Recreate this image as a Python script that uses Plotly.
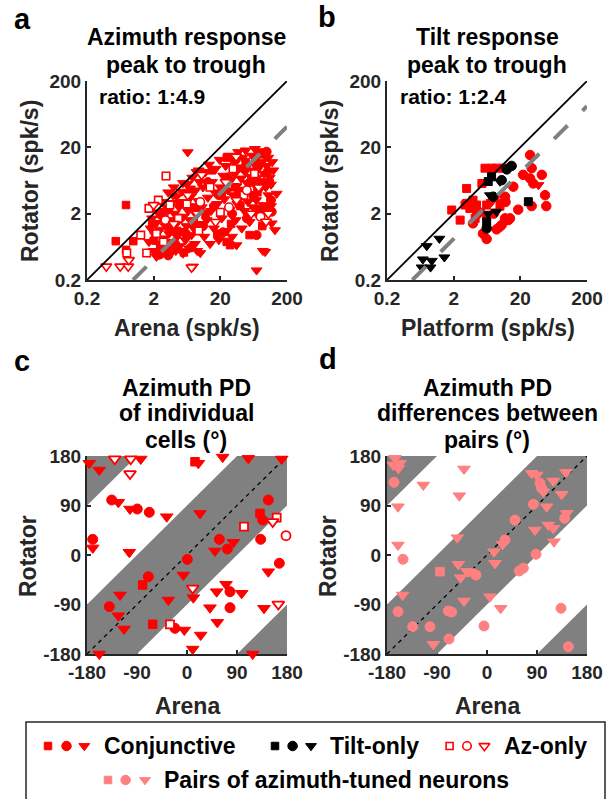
import math
import plotly.graph_objects as go

W, H = 606, 799

# ---------------- DATA ----------------
# Panel a: azimuth response peak-to-trough (spk/s), Arena (x) vs Rotator (y)
a_conj_tri = [
    (6.5, 16.9), (66, 18.9), (140, 4.0), (118, 1.43), (94, 0.53), (70, 0.28), (35, 0.67), (10, 0.51),
    (7.8, 0.32), (132, 1.13), (87, 0.55),
    (1.7, 0.75), (1.8, 1.2), (1.9, 1.7), (2.0, 0.55), (2.1, 0.95), (2.2, 1.45), (2.3, 2.1), (2.4, 0.7),
    (2.5, 1.15), (2.6, 3.0), (2.7, 0.5), (2.8, 1.8), (2.9, 0.85), (3.0, 1.3), (3.1, 2.5), (3.2, 0.6),
    (3.3, 4.2), (3.4, 1.0), (3.5, 1.6), (3.6, 0.5), (3.7, 2.9), (3.8, 0.75), (3.9, 1.25), (4.0, 5.0),
    (4.1, 2.0), (4.3, 0.55), (4.4, 3.6), (4.5, 0.9), (4.6, 1.5), (4.8, 2.5), (4.9, 0.65), (5.2, 1.1),
    (5.3, 4.3), (5.5, 0.5), (5.6, 1.8), (5.8, 3.0), (6.0, 0.8), (6.2, 1.3), (6.4, 5.6), (6.6, 2.2),
    (6.8, 0.6), (7.0, 1.6), (7.2, 3.6), (7.4, 0.95), (7.6, 7.0), (7.8, 2.6), (8.0, 1.2), (8.3, 0.7),
    (8.5, 4.5), (8.8, 1.9), (9.0, 0.55), (9.3, 3.1), (9.6, 1.4), (9.8, 6.0), (2.2, 0.45), (2.9, 2.2),
    (3.9, 3.8), (5.5, 5.8), (7.0, 4.8), (8.8, 8.5), (9.5, 9.0),
    (10.5, 2.5), (11, 5.0), (11.5, 0.9), (12, 8.5), (12.5, 1.6), (13, 3.5), (13.5, 11), (14, 0.7),
    (14.5, 2.2), (15, 6.0), (16, 1.2), (16.5, 4.2), (17, 9.5), (18, 2.8), (19, 0.8), (19.5, 13),
    (20, 5.0), (21, 1.7), (22, 7.5), (23, 3.3), (24, 10.5), (25, 1.1), (26, 4.5), (27, 15), (28, 2.3),
    (29, 6.5), (30, 0.9), (31, 3.8), (32, 12), (33, 8.0), (34, 1.6), (35, 5.2), (36, 2.8), (37, 17),
    (38, 10), (40, 3.5), (41, 6.8), (42, 1.2), (43, 14), (44, 4.6), (46, 2.2), (47, 8.5), (48, 18),
    (50, 5.8), (52, 3.0), (53, 11), (55, 1.5), (57, 7.2), (58, 4.0), (60, 15), (62, 2.5), (64, 9.0),
    (65, 5.5), (67, 13), (69, 3.2), (71, 7.0), (73, 1.9), (75, 17.5), (77, 10), (80, 4.8), (83, 6.2),
    (85, 12), (88, 2.7), (90, 8.0), (93, 15), (96, 5.0), (100, 10.5), (105, 3.8), (110, 7.0),
    (115, 5.5), (125, 9.0), (115, 2.6), (105, 14), (120, 12),
]
a_conj_circ = [
    (94, 2.27), (118, 2.14), (70, 0.95), (99, 17.2),
    (2.0, 0.8), (2.6, 1.9), (3.1, 0.55), (3.6, 1.2), (4.2, 0.7), (5.0, 2.8), (6.1, 1.0), (7.3, 0.62),
    (8.6, 2.3), (11, 1.3), (13, 6.0), (16, 2.6), (19, 3.8), (22, 1.05), (26, 7.0), (30, 2.0), (34, 13),
    (38, 4.2), (45, 9.5), (50, 1.7), (56, 6.0), (63, 3.6), (70, 11), (78, 2.3), (86, 5.5), (85, 16),
    (102, 8.5), (115, 3.2), (2.4, 0.48), (3.3, 0.47),
]
a_conj_sq = [
    (0.77, 2.7), (0.54, 0.77), (0.77, 0.57), (0.99, 0.77), (24.9, 0.75), (28, 0.67),
    (1.9, 1.4), (2.5, 0.6), (3.4, 2.3), (4.5, 1.1), (5.7, 0.52), (6.8, 4.0), (8.0, 1.5), (12, 2.0),
    (15, 9.0), (18, 1.0), (21, 4.0), (25, 14), (29, 1.4), (33, 5.0), (40, 2.6), (48, 12), (55, 0.95),
    (60, 6.5), (72, 4.2), (85, 1.3), (110, 5.8),
]
a_az_sq = [
    (3.06, 7.4), (1.28, 0.95), (0.79, 0.51), (2.35, 3.2), (3.5, 2.7), (1.57, 0.51), (1.7, 2.4),
    (2.2, 1.0), (2.8, 0.75), (4.7, 1.7), (6.3, 2.8), (9.5, 1.1), (14, 5.0), (20, 2.1), (31, 9.5),
    (45, 3.8), (65, 8.0),
]
a_az_circ = [(3.0, 1.6), (10, 3.0), (27, 2.5), (50, 4.5), (80, 1.8)]
a_az_tri = [
    (0.39, 0.32), (0.63, 0.32), (0.83, 0.32), (0.85, 0.40), (7.4, 0.31), (97, 1.52), (34.5, 14.5),
    (10.5, 7.7), (2.0, 2.7), (4.0, 1.4), (6.5, 3.8), (9.0, 2.0), (17, 1.5), (24, 6.0), (35, 3.2),
    (58, 2.0), (75, 5.0), (105, 2.0),
]
ratio_a = 4.9

# Panel b: tilt response peak-to-trough (spk/s), Platform (x) vs Rotator (y)
b_conj_sq = [
    (3.13, 4.8), (5.3, 5.7), (5.9, 9.7), (7.4, 9.7), (8.8, 9.7), (11.2, 9.7), (1.87, 2.27), (2.5, 1.6),
    (2.96, 2.7), (3.5, 2.4), (4.4, 2.7), (5.0, 2.1), (4.2, 1.7), (3.13, 2.86), (3.9, 3.2), (6.25, 2.7),
    (9.9, 2.6), (4.4, 2.0), (6.25, 1.8),
]
b_conj_circ = [
    (3.9, 1.43), (6.25, 0.83), (8.8, 1.16), (10.5, 1.35), (14, 1.7), (15.7, 5.1), (18.6, 2.3),
    (22, 7.7), (28, 6.8), (28, 15.3), (29.6, 9.7), (42, 7.7), (31.3, 5.7), (47, 3.8), (49, 2.6),
    (29.6, 2.6), (11.8, 1.7), (5.5, 1.0), (9.9, 1.27), (11.8, 3.6), (8.0, 2.0), (12, 3.0), (13.2, 1.6),
]
b_conj_tri = [(8.8, 3.6), (7.4, 3.0), (37.4, 5.4), (10, 3.0)]
b_tilt_sq = [(26.4, 3.03), (7.4, 7.2), (6.25, 1.51), (6.6, 6.1)]
b_tilt_circ = [(14.8, 10.5), (6.25, 1.2), (10.5, 6.4), (7.8, 3.6), (12.5, 9.3)]
b_tilt_tri = [
    (0.79, 0.65), (1.22, 0.84), (1.45, 0.44), (0.69, 0.41), (0.94, 0.39), (0.66, 0.31), (0.90, 0.31),
    (7.0, 3.8), (9.9, 6.1), (8.8, 2.14), (6.6, 2.0),
]
ratio_b = 2.4

# Panel c: azimuth PD of individual cells (deg), Arena (x) vs Rotator (y)
c_conj_sq = [(-79.8, -54.5), (-61.8, -126), (14.4, 169.6), (131.4, 75.6)]
c_conj_circ = [
    (-135.5, 100), (-89.5, 83.6), (-67.9, 77.6), (-169.7, 28.5), (-69.6, -39.5), (-139.8, -94),
    (-21.6, -133.3), (0.6, -8), (146.4, 100), (136.2, 63.6), (132.6, 28.5), (58.2, 28.5), (72.6, 10.9),
    (166.2, -15), (77.4, -66.7), (77.4, -95.8),
]
c_conj_tri = [
    (-175.9, 166.7), (-157.9, 154.5), (-83.3, 174.5), (-123.6, 95.8), (-102.6, 83.6), (-36.5, 69.6),
    (-169.7, 12.9), (-103.8, 5), (-120.6, -72.7), (-123.6, -110.4), (-113.4, -134.5), (-4.8, -136.4),
    (-157.9, -180), (-33.6, -81.8), (20.4, 166.7), (64.2, 178), (110.4, 175.7), (170.4, 174.5),
    (23.4, 75.6), (83.4, 23), (50.4, 7.3), (146.4, -30.4), (-6.6, -36.4), (11.4, -77.6), (70.2, -53.3),
    (53.4, -66.7), (98.4, -69.6), (41.4, -95.8), (138.6, -96.9), (54.6, -122.4), (24.6, -145.5),
    (10.2, -171), (118.2, -180),
]
c_az_sq = [(-30.6, -126), (161.4, 67.9), (102.6, 51.5)]
c_az_circ = [(178.2, 35.1)]
c_az_tri = [(-130.1, 174.5), (-101.3, 174.5), (-102.6, 147.8), (154.2, 60.5), (10.2, -60.5), (164.4, -89.6)]

# Panel d: azimuth PD differences between pairs (deg), Arena (x) vs Rotator (y)
d_sq = [(-84.6, -30.3)]
d_circ = [
    (-167.4, 132.2), (-151.2, -7.8), (-19.8, -36.4), (-160.2, -103), (-69.6, -101.8), (-63.6, -103.6),
    (-133.8, -130.3), (-102.6, -130.3), (-68.4, -152.7), (-5.4, -129), (32.4, 27.3), (50.4, 63.6),
    (83.4, 92.2), (88.2, 1.3), (58.2, -29), (65.4, -24), (95.4, 130.4), (98.4, 121.3), (139.8, 66.7),
    (133.2, -96.9), (146.4, -166.7),
]
d_tri = [
    (-165.6, 175.8), (-156.6, 167), (-159.6, 157.6), (-168.6, 163.6), (-114.6, 127.3), (-41.4, 156.4),
    (-49.8, 107.8), (-160.2, 87.8), (-160.2, 18.2), (-53.4, 31.5), (-51.6, -16.9), (-47.4, -41.2),
    (-31.8, -30.3), (-151.8, -72.7), (-41.4, -83.6), (-96.6, -162.4), (5.4, -75.8), (24.6, -96.9),
    (14.4, -15.1), (12.6, 6), (28.2, 19.5), (86.4, 45.5), (80.4, 148.5), (89.4, 145.5), (101.4, 115),
    (107.4, 87.8), (119.4, 134.5), (142.2, 150.3), (134.4, 110.4), (143.4, 75.8), (110.4, 54.5),
    (119.4, 48.5), (120.6, 24.2), (-36, -30),
]

log_ticks = [0.2, 2, 20, 200]
log_tick_text = ["0.2", "2", "20", "200"]
deg_ticks = [-180, -90, 0, 90, 180]
deg_tick_text = ["-180", "-90", "0", "90", "180"]
band_tol = 90  # +/- deg tolerance shaded around identity

# ---------------- STYLE ----------------
RED = "#ff0000"
PINK = "#ff8080"
BLACK = "#000000"
GRAY = "#808080"
AX = "#262626"
FONT = "Liberation Sans"

fig = go.Figure()


def pts(p):
    return [q[0] for q in p], [q[1] for q in p]


def add_markers(p, xa, ya, symbol, size, fill, edge, lw=1.0):
    xs, ys = pts(p)
    fig.add_trace(go.Scatter(
        x=xs, y=ys, mode="markers", xaxis=xa, yaxis=ya, showlegend=False, hoverinfo="skip",
        cliponaxis=False,
        marker=dict(symbol=symbol, size=size, color=fill, line=dict(color=edge, width=lw)),
    ))


def add_line(xs, ys, xa, ya, color, width, dash="solid"):
    fig.add_trace(go.Scatter(
        x=xs, y=ys, mode="lines", xaxis=xa, yaxis=ya, showlegend=False, hoverinfo="skip",
        line=dict(color=color, width=width, dash=dash),
    ))


def add_band(xs, ys, xa, ya):
    fig.add_trace(go.Scatter(
        x=xs, y=ys, mode="lines", fill="toself", fillcolor=GRAY, xaxis=xa, yaxis=ya,
        line=dict(color=GRAY, width=0), showlegend=False, hoverinfo="skip",
    ))


lo, hi = 0.2, 200
# ----- panel a -----
add_markers(a_conj_tri, "x", "y", "triangle-down", 9.5, RED, RED)
add_markers(a_conj_circ, "x", "y", "circle", 9, RED, RED)
add_markers(a_conj_sq, "x", "y", "square", 7.5, RED, RED)
add_markers(a_az_sq, "x", "y", "square", 7.5, "white", RED, 1.6)
add_markers(a_az_circ, "x", "y", "circle", 8.5, "white", RED, 1.6)
add_markers(a_az_tri, "x", "y", "triangle-down", 9.5, "white", RED, 1.6)
add_line([lo, hi], [lo, hi], "x", "y", BLACK, 1.8)
add_line([lo * ratio_a, hi], [lo, hi / ratio_a], "x", "y", GRAY, 4, "19px,21px")

# ----- panel b -----
add_markers(b_conj_sq, "x2", "y2", "square", 8, RED, RED)
add_markers(b_conj_circ, "x2", "y2", "circle", 9.5, RED, RED)
add_markers(b_conj_tri, "x2", "y2", "triangle-down", 9.5, RED, RED)
add_markers(b_tilt_sq, "x2", "y2", "square", 8, BLACK, BLACK)
add_markers(b_tilt_circ, "x2", "y2", "circle", 9.5, BLACK, BLACK)
add_markers(b_tilt_tri, "x2", "y2", "triangle-down", 9.5, BLACK, BLACK)
add_line([lo, hi], [lo, hi], "x2", "y2", BLACK, 1.8)
add_line([lo * ratio_b, hi], [lo, hi / ratio_b], "x2", "y2", GRAY, 4, "19px,21px")

# ----- panels c & d : shaded bands (|rotator - arena| < tol, with wrap-around corners) -----
m = 180
t = band_tol
band_main_x = [-m, -m + t, m, m, m - t, -m]
band_main_y = [-m, -m, m - t, m, m, -m + t]
corner_tl_x, corner_tl_y = [-m, -m, -m + t], [m - t, m, m]
corner_br_x, corner_br_y = [m - t, m, m], [-m, -m, -m + t]
for xa, ya in (("x3", "y3"), ("x4", "y4")):
    add_band(band_main_x, band_main_y, xa, ya)
    add_band(corner_tl_x, corner_tl_y, xa, ya)
    add_band(corner_br_x, corner_br_y, xa, ya)
    add_line([-m, m], [-m, m], xa, ya, BLACK, 1.3, "4px,4px")

add_markers(c_conj_tri, "x3", "y3", "triangle-down", 11, RED, RED)
add_markers(c_conj_circ, "x3", "y3", "circle", 10, RED, RED)
add_markers(c_conj_sq, "x3", "y3", "square", 8.5, RED, RED)
add_markers(c_az_sq, "x3", "y3", "square", 8, "white", RED, 1.8)
add_markers(c_az_circ, "x3", "y3", "circle", 9, "white", RED, 1.8)
add_markers(c_az_tri, "x3", "y3", "triangle-down", 10.5, "white", RED, 1.8)

add_markers(d_tri, "x4", "y4", "triangle-down", 11, PINK, PINK)
add_markers(d_circ, "x4", "y4", "circle", 10, PINK, PINK)
add_markers(d_sq, "x4", "y4", "square", 8.5, PINK, PINK)

# ----- legend glyphs (pixel-coordinate overlay axis) -----
leg_rows = [
    (746, [(48, "square", 7.5, RED, RED), (66.5, "circle", 9.5, RED, RED), (84.3, "triangle-down", 9.5, RED, RED),
           (275, "square", 7.5, BLACK, BLACK), (292.6, "circle", 9.5, BLACK, BLACK), (311, "triangle-down", 9.5, BLACK, BLACK),
           (449.6, "square", 7, "white", RED), (467, "circle", 8.5, "white", RED), (484.4, "triangle-down", 9.5, "white", RED)]),
    (780, [(108, "square", 7.5, PINK, PINK), (125.6, "circle", 9.5, PINK, PINK), (145, "triangle-down", 9.5, PINK, PINK)]),
]
for ly, items in leg_rows:
    for lx, sym, sz, fc, ec in items:
        fig.add_trace(go.Scatter(
            x=[lx], y=[ly], mode="markers", xaxis="x5", yaxis="y5", showlegend=False, hoverinfo="skip",
            marker=dict(symbol=sym, size=sz, color=fc, line=dict(color=ec, width=1.6 if fc == "white" else 1)),
        ))


# ---------------- LAYOUT ----------------
def xdom(p0, p1):
    return [p0 / W, p1 / W]


def ydom(p0, p1):
    return [1 - p1 / H, 1 - p0 / H]


tickfont = dict(family=FONT, size=19, color=AX, weight="bold")
common = dict(showline=True, linecolor=AX, linewidth=2, ticks="inside", ticklen=4, tickwidth=1.5,
              tickcolor=AX, showgrid=False, zeroline=False, tickfont=tickfont, fixedrange=True,
              layer="below traces", mirror=False, automargin=False)
logax = dict(type="log", range=[math.log10(lo), math.log10(hi)], tickmode="array",
             tickvals=log_ticks, ticktext=log_tick_text, **common)
degax = dict(range=[-180, 180], tickmode="array", tickvals=deg_ticks, ticktext=deg_tick_text, **common)

top_ab, bot_ab = 81, 280
top_cd, bot_cd = 456, 654
left_ac, right_ac = 87, 287
left_bd, right_bd = 387, 587

layout = dict(
    width=W, height=H, autosize=False,
    margin=dict(l=0, r=0, t=0, b=0, pad=0, autoexpand=False),
    paper_bgcolor="white", plot_bgcolor="rgba(0,0,0,0)",
    xaxis=dict(domain=xdom(left_ac, right_ac), anchor="y", **logax),
    yaxis=dict(domain=ydom(top_ab, bot_ab), anchor="x", **logax),
    xaxis2=dict(domain=xdom(left_bd, right_bd), anchor="y2", **logax),
    yaxis2=dict(domain=ydom(top_ab, bot_ab), anchor="x2", **logax),
    xaxis3=dict(domain=xdom(left_ac, right_ac), anchor="y3", **degax),
    yaxis3=dict(domain=ydom(top_cd, bot_cd), anchor="x3", **degax),
    xaxis4=dict(domain=xdom(left_bd, right_bd), anchor="y4", **degax),
    yaxis4=dict(domain=ydom(top_cd, bot_cd), anchor="x4", **degax),
    xaxis5=dict(domain=[0, 1], range=[0, W], visible=False, fixedrange=True, anchor="y5", automargin=False),
    yaxis5=dict(domain=[0, 1], range=[H, 0], visible=False, fixedrange=True, anchor="x5", automargin=False),
    showlegend=False,
)
fig.update_layout(**layout)

annotations = []


def ann(text, px, py, size, color=BLACK, xanchor="center", angle=0):
    annotations.append(dict(
        text=text, x=px / W, y=1 - py / H, xref="paper", yref="paper", showarrow=False,
        xanchor=xanchor, yanchor="middle", textangle=angle,
        font=dict(family=FONT, size=size, color=color, weight="bold"),
    ))


# panel letters
ann("a", 22, 19, 29)
ann("b", 327, 17, 29)
ann("c", 22, 361, 29)
ann("d", 328, 359, 29)
# titles
ann("Azimuth response", 186, 37, 23)
ann("peak to trough", 186, 65, 23)
ann("Tilt response", 487, 37, 23)
ann("peak to trough", 487, 65, 23)
ann("Azimuth PD", 186, 388, 23)
ann("of individual", 186, 413, 23)
ann("cells (°)", 186, 440, 23)
ann("Azimuth PD", 487, 388, 23)
ann("differences between", 487, 413, 23)
ann("pairs (°)", 487, 440, 23)
# ratio notes
ann("ratio: 1:%.1f" % ratio_a, 97, 96, 21, xanchor="left")
ann("ratio: 1:%.1f" % ratio_b, 398, 96, 21, xanchor="left")
# axis titles
ann("Arena (spk/s)", 187, 328, 23, AX)
ann("Platform (spk/s)", 488, 328, 23, AX)
ann("Arena", 187, 706, 23, AX)
ann("Arena", 487, 706, 23, AX)
ann("Rotator (spk/s)", 30, 181, 23, AX, angle=-90)
ann("Rotator (spk/s)", 330, 181, 23, AX, angle=-90)
ann("Rotator", 28, 556, 23, AX, angle=-90)
ann("Rotator", 328, 556, 23, AX, angle=-90)
# legend text
ann("Conjunctive", 102, 746, 23, xanchor="left")
ann("Tilt-only", 328, 746, 23, xanchor="left")
ann("Az-only", 502, 746, 23, xanchor="left")
ann("Pairs of azimuth-tuned neurons", 162, 780, 23, xanchor="left")

fig.update_layout(annotations=annotations)
# legend frame: open at the bottom (cut off by the figure edge), kept inside the paper
bx0, bx1, by0, by1 = 26 / W, 605 / W, 1 - 722 / H, 0.0
fig.add_shape(type="path", xref="paper", yref="paper",
              path=f"M {bx0},{by1} L {bx0},{by0} L {bx1},{by0} L {bx1},{by1}",
              line=dict(color=AX, width=1.5), layer="above")

page_fix = "document.body.style.margin='0px';document.body.style.padding='0px';document.body.style.overflow='hidden';"
fig.write_html("out.html", post_script=page_fix, config={"displayModeBar": False})
